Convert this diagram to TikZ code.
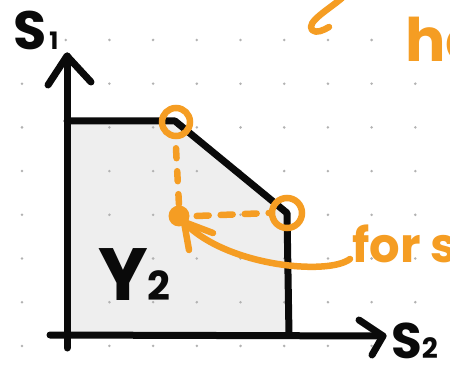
\documentclass[tikz,border=0pt]{standalone}
\usepackage{fontspec}
\setmainfont{Poppins}
\usetikzlibrary{calc}
\definecolor{hlorange}{RGB}{245,157,35}
\definecolor{regiongray}{RGB}{238,238,238}
\definecolor{dotgray}{RGB}{178,178,178}
\definecolor{inkblack}{RGB}{10,10,10}
\tikzset{
  blackline/.style={line width=7pt, line cap=round, line join=round, inkblack},
  orangeline/.style={line width=6.5pt, line cap=round, line join=round, hlorange},
  orangering/.style={circle, draw=hlorange, line width=6.5pt, inner sep=0pt},
  orangedot/.style={circle, fill=hlorange, inner sep=0pt, minimum size=21pt},
  inklabel/.style={inner sep=0pt, text=inkblack, font=\bfseries},
  orangelabel/.style={inner sep=0pt, text=hlorange, font=\bfseries}
}
\begin{document}
\begin{tikzpicture}[x=1pt,y=-1pt]
\useasboundingbox (0,0) rectangle (450,366);
\clip (0,0) rectangle (450,366);
\fill[white] (0,0) rectangle (450,366);
% feasible region
\coordinate (o) at (67,335);
\coordinate (tl) at (67,121);
\coordinate (tr) at (175,121);
\coordinate (rc) at (287,213);
\coordinate (br) at (289,335);
\fill[regiongray] (o) -- (tl) -- (tr) -- (rc) -- (br) -- cycle;
% dot grid
\foreach \i in {0,...,9} \foreach \j in {0,...,7}
  \fill[dotgray] ({22+43.7*\i},{40+43.7*\j}) circle (1.4);
% region boundary
\draw[blackline] (tl) -- (tr) -- (rc) -- (br);
% axes
\coordinate (ybot) at (67,348);
\coordinate (ytop) at (67,56);
\coordinate (yl) at (48,85);
\coordinate (yr) at (91,82);
\coordinate (xleft) at (50,335);
\coordinate (xright) at (383,336);
\coordinate (xu) at (359,320);
\coordinate (xd) at (372,355);
\draw[blackline] (ybot) -- (ytop);
\draw[blackline] (yl) -- (ytop) -- (yr);
\draw[blackline] (xleft) -- (xright);
\draw[blackline] (xu) -- (xright) -- (xd);
% labels
\node[inklabel, anchor=base west] (s1) at (13,50) {\fontsize{54}{54}\selectfont S\hspace{3pt}{\fontsize{24}{24}\selectfont 1}};
\node[inklabel, anchor=base west] (s2) at (391,358) {\fontsize{50}{50}\selectfont S{\fontsize{28}{28}\selectfont 2}};
\node[inklabel, anchor=base west] (y2) at (98,300) {\fontsize{74}{74}\selectfont Y{\fontsize{40}{40}\selectfont 2}};
% orange markings
\node[orangering, minimum size=28pt] (c1) at (176,122) {};
\node[orangering, minimum size=30pt] (c2) at (287,213) {};
\node[orangedot] (pt) at (179,216) {};
\draw[orangeline, dash pattern=on 10pt off 13pt] (c1.south) ++(0,9) -- (pt.north);
\draw[orangeline, dash pattern=on 12pt off 12pt] (pt.east) ++(7,0) -- (c2.west);
\coordinate (arrstart) at (350,259);
\coordinate (tip) at (184,222);
\draw[orangeline] (arrstart) .. controls (328,276) and (225,266) .. (tip);
\draw[orangeline] ($(tip)+(29,11)$) -- (tip) -- ($(tip)+(5,28)$);
\draw[orangeline] (342,-2) .. controls (328,10) and (306,22) .. (312,30) .. controls (316,34) and (324,30) .. (329,27);
\node[orangelabel, anchor=base west] (forlabel) at (352,263) {\fontsize{48}{48}\selectfont for s};
\node[orangelabel, anchor=base west] (helabel) at (405,62) {\fontsize{60}{60}\selectfont he};
\end{tikzpicture}
\end{document}
